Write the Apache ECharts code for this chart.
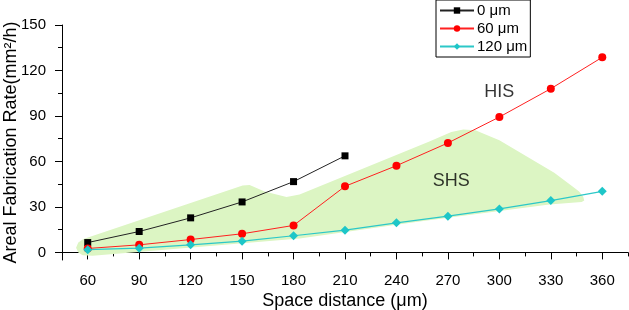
<!DOCTYPE html>
<html>
<head>
<meta charset="utf-8">
<script src="https://cdn.jsdelivr.net/npm/echarts@6/dist/echarts.min.js"></script>
<style>
  html, body { margin: 0; padding: 0; background: #fff; }
  #result { width: 629px; height: 310px; }
</style>
</head>
<body>
<div id="result"></div>
<script>
var myChart = echarts.init(document.getElementById('result'));

// data
var spacing = [60, 90, 120, 150, 180, 210, 240, 270, 300, 330, 360];
var rate0 = [6.5, 13.8, 22.8, 33.3, 46.7, 63.7];
var rate60 = [2.6, 5.0, 8.5, 12.3, 17.8, 43.6, 57.2, 72.2, 89.3, 108, 128.7];
var rate120 = [1.8, 2.8, 5.0, 7.4, 11.0, 14.7, 19.5, 23.9, 28.7, 34.2, 40.3];
var seriesNames = ['0 μm', '60 μm', '120 μm'];

// SHS region outline (data coords)
var regionX = [53.2, 54.5, 57.5, 150.3, 154.4, 163.1, 175.9, 183.5, 259.2, 272, 279, 286, 300, 319.2, 332, 342.5, 346.5, 348.9, 349.5, 348, 329.1, 253.4, 183.5, 62.9, 57, 54.5];
var regionY = [3.0, 6.5, 8.8, 44.1, 44.4, 40.1, 36.5, 38.2, 73.2, 79.5, 81, 80.5, 74, 61.2, 52.6, 43.6, 40.2, 36.8, 34.2, 33.2, 31.6, 20.4, 9.2, -2.2, -1.8, 0.0];

var xMajor = [60, 90, 120, 150, 180, 210, 240, 270, 300, 330, 360];
var xMinor = [45, 75, 105, 135, 165, 195, 225, 255, 285, 315, 345, 375];
var yMajor = [0, 30, 60, 90, 120, 150];
var yMinor = [15, 45, 75, 105, 135];

var notes = [[300, 106, 'HIS'], [272, 47, 'SHS']];

function pairs(vals) {
	return vals.map(function (v, i) { return [spacing[i], v]; });
}

var font = 'Liberation Sans, Arial, sans-serif';

var option = {
	animation: false,
	textStyle: { fontFamily: font },
	grid: { left: 62, right: 1, top: 25, bottom: 50, outerBoundsMode: 'none', containLabel: false },
	legend: {
		data: seriesNames,
		orient: 'vertical',
		left: 436,
		top: 0,
		itemGap: 3,
		itemWidth: 34,
		itemHeight: 8,
		padding: [3, 3, 3, 3],
		borderColor: '#000',
		borderWidth: 1,
		textStyle: { fontSize: 15, color: '#000', fontFamily: font, padding: [0, 0, 0, -2] }
	},
	xAxis: [{
		type: 'value', min: 45, max: 375, position: 'bottom',
		name: 'Space distance (μm)', nameLocation: 'middle', nameGap: 32, nameMoveOverlap: false,
		nameTextStyle: { fontSize: 18, color: '#000', fontFamily: font },
		axisLine: { lineStyle: { color: '#000', width: 1 } },
		axisTick: { customValues: xMajor, length: 7, lineStyle: { color: '#000' } },
		axisLabel: { customValues: xMajor, fontSize: 15, color: '#000', margin: 13 },
		splitLine: { show: false }
	}, {
		type: 'value', min: 45, max: 375, position: 'bottom',
		axisLine: { show: false },
		axisTick: { customValues: xMinor, length: 4, lineStyle: { color: '#000' } },
		axisLabel: { show: false },
		splitLine: { show: false }
	}],
	yAxis: [{
		type: 'value', min: -5, max: 150, position: 'left',
		name: 'Areal Fabrication Rate(mm²/h)', nameLocation: 'middle', nameGap: 42, nameMoveOverlap: false,
		nameTextStyle: { fontSize: 18, color: '#000', fontFamily: font },
		axisLine: { show: true, lineStyle: { color: '#000', width: 1 } },
		axisTick: { show: true, customValues: yMajor, length: 7, lineStyle: { color: '#000' } },
		axisLabel: { customValues: yMajor, fontSize: 15, color: '#000', margin: 16 },
		splitLine: { show: false }
	}, {
		type: 'value', min: -5, max: 150, position: 'left',
		axisLine: { show: false },
		axisTick: { show: true, customValues: yMinor, length: 4, lineStyle: { color: '#000' } },
		axisLabel: { show: false },
		splitLine: { show: false }
	}],
	series: [{
		type: 'custom',
		silent: true,
		z: 1,
		data: regionX.map(function (x, i) { return [x, regionY[i]]; }),
		renderItem: function (params, api) {
			if (params.dataIndex !== 0) return;
			var pts = regionX.map(function (x, i) { return api.coord([x, regionY[i]]); });
			return {
				type: 'polygon',
				shape: { points: pts },
				style: { fill: '#dcf5c3' }
			};
		}
	}, {
		name: seriesNames[0],
		type: 'line',
		z: 3,
		data: pairs(rate0),
		symbol: 'rect',
		symbolSize: 7,
		itemStyle: { color: '#000' },
		lineStyle: { color: '#222', width: 1 }
	}, {
		name: seriesNames[1],
		type: 'line',
		z: 3,
		data: pairs(rate60),
		symbol: 'circle',
		symbolSize: 8,
		itemStyle: { color: '#ff0000' },
		lineStyle: { color: '#ff2020', width: 1 }
	}, {
		name: seriesNames[2],
		type: 'line',
		z: 3,
		data: pairs(rate120),
		symbol: 'diamond',
		symbolSize: 9,
		itemStyle: { color: '#1ec6c8' },
		lineStyle: { color: '#2cc8c8', width: 1.2 }
	}, {
		type: 'scatter',
		silent: true,
		symbolSize: 0,
		data: notes,
		label: {
			show: true,
			position: 'inside',
			formatter: function (p) { return p.data[2]; },
			fontSize: 18,
			color: '#000',
			fontFamily: font
		}
	}]
};

myChart.setOption(option);
</script>
</body>
</html>
